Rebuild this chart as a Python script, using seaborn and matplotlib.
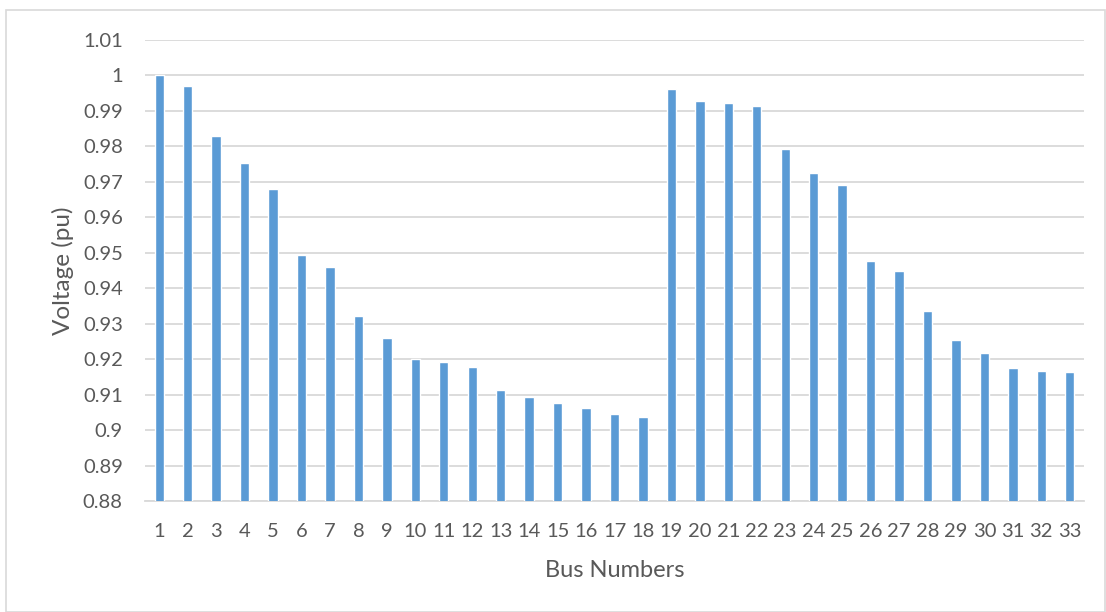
import matplotlib
matplotlib.use("Agg")
import matplotlib.pyplot as plt
import seaborn as sns
import pandas as pd
from matplotlib.patches import Rectangle

bus_numbers = list(range(1, 34))
voltages = [
    1.0000, 0.9970, 0.9829, 0.9753, 0.9679, 0.9494, 0.9460, 0.9323, 0.9259, 0.9200,
    0.9191, 0.9177, 0.9114, 0.9092, 0.9077, 0.9063, 0.9044, 0.9037,
    0.9963, 0.9929, 0.9921, 0.9915, 0.9792, 0.9725, 0.9692, 0.9476, 0.9449,
    0.9335, 0.9253, 0.9216, 0.9176, 0.9167, 0.9164,
]
y_ticks = [0.88, 0.89, 0.90, 0.91, 0.92, 0.93, 0.94, 0.95, 0.96, 0.97, 0.98, 0.99, 1.00, 1.01]
y_tick_labels = ["0.88", "0.89", "0.9", "0.91", "0.92", "0.93", "0.94", "0.95",
                 "0.96", "0.97", "0.98", "0.99", "1", "1.01"]

df = pd.DataFrame({"bus": [str(b) for b in bus_numbers], "voltage": voltages})

sns.set_theme(style="white")
plt.rcParams["font.family"] = ["Lato", "DejaVu Sans"]

text_color = "#595959"
grid_color = "#D9D9D9"

fig = plt.figure(figsize=(11.06, 6.12), dpi=100)
ax = fig.add_axes([145 / 1106, 1 - 501 / 612, (1084 - 145) / 1106, (501 - 40) / 612])

sns.barplot(data=df, x="bus", y="voltage", color="#5B9BD5", saturation=1,
            width=0.33, ax=ax, zorder=3)

ax.set_ylim(0.88, 1.01)
ax.set_xlim(-0.5, len(bus_numbers) - 0.5)
ax.set_yticks(y_ticks)
ax.set_yticklabels(y_tick_labels)
ax.yaxis.grid(True, color=grid_color, linewidth=1.3, zorder=0)
ax.xaxis.grid(False)
ax.set_axisbelow(True)

for side in ["left", "right", "top"]:
    ax.spines[side].set_visible(False)
ax.spines["bottom"].set_color(grid_color)
ax.spines["bottom"].set_linewidth(1.3)

ax.tick_params(axis="both", length=0, labelsize=14.5, labelcolor=text_color)
ax.tick_params(axis="x", pad=16)
ax.tick_params(axis="y", pad=16)

ax.set_xlabel("Bus Numbers", fontsize=17, color=text_color, labelpad=14)
ax.set_ylabel("Voltage (pu)", fontsize=17.5, color=text_color, labelpad=6)

# Light frame around the whole chart
fig.patches.append(Rectangle((6 / 1106, 0), 1099 / 1106, 602 / 612,
                             transform=fig.transFigure, fill=False,
                             edgecolor=grid_color, linewidth=1.2))

fig.savefig("out.png", dpi=100)
